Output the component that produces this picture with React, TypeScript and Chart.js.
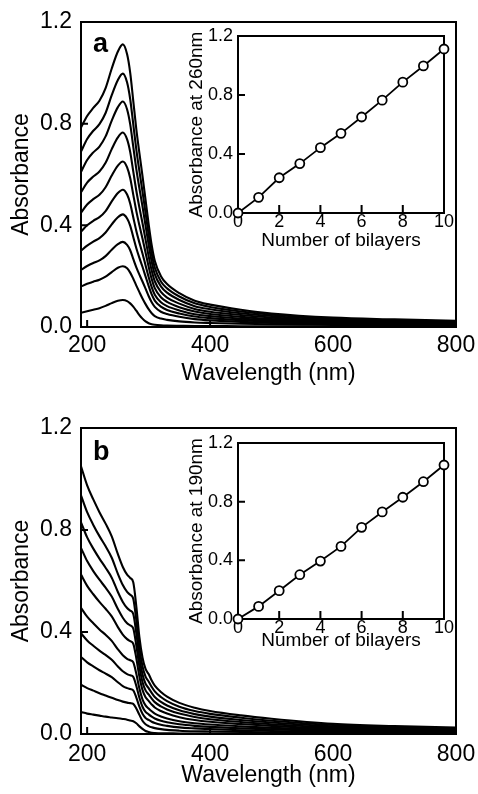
import React, { useEffect, useRef } from "react";
import { Chart, registerables } from "chart.js";

Chart.register(...registerables);

const FONT = '"Liberation Sans", Arial, Helvetica, sans-serif';

// ---------- main spectra (shared wavelength grid, nm) ----------
const wavelengths = [190, 200, 210, 220, 230, 240, 250, 258, 265, 270, 275, 280, 285, 290, 295, 300, 305, 310, 320, 330, 350, 375, 400, 450, 500, 600, 700, 800];

// Panel a: 1..10 bilayers
const specA1 = [0.056, 0.062, 0.068, 0.074, 0.083, 0.094, 0.103, 0.106, 0.102, 0.093, 0.08, 0.064, 0.047, 0.033, 0.022, 0.015, 0.011, 0.009, 0.007, 0.006, 0.005, 0.004, 0.004, 0.003, 0.003, 0.002, 0.002, 0.001];
const specA2 = [0.159, 0.17, 0.178, 0.186, 0.198, 0.216, 0.233, 0.239, 0.231, 0.214, 0.19, 0.163, 0.137, 0.112, 0.09, 0.07, 0.054, 0.043, 0.033, 0.028, 0.022, 0.018, 0.016, 0.013, 0.011, 0.008, 0.006, 0.005];
const specA3 = [0.225, 0.24, 0.252, 0.262, 0.279, 0.304, 0.326, 0.335, 0.323, 0.302, 0.268, 0.235, 0.206, 0.179, 0.151, 0.122, 0.097, 0.079, 0.06, 0.051, 0.04, 0.031, 0.026, 0.02, 0.016, 0.011, 0.009, 0.007];
const specA4 = [0.30, 0.32, 0.336, 0.35, 0.372, 0.404, 0.432, 0.443, 0.427, 0.399, 0.354, 0.31, 0.272, 0.237, 0.199, 0.162, 0.128, 0.104, 0.08, 0.067, 0.053, 0.041, 0.035, 0.027, 0.021, 0.015, 0.012, 0.01];
const specA5 = [0.375, 0.40, 0.418, 0.432, 0.456, 0.494, 0.527, 0.54, 0.521, 0.486, 0.432, 0.378, 0.332, 0.289, 0.243, 0.197, 0.157, 0.127, 0.097, 0.082, 0.065, 0.05, 0.043, 0.033, 0.026, 0.018, 0.015, 0.012];
const specA6 = [0.45, 0.482, 0.503, 0.52, 0.55, 0.596, 0.635, 0.651, 0.628, 0.586, 0.521, 0.456, 0.40, 0.348, 0.293, 0.238, 0.189, 0.153, 0.117, 0.099, 0.078, 0.061, 0.051, 0.04, 0.031, 0.021, 0.018, 0.014];
const specA7 = [0.53, 0.568, 0.592, 0.612, 0.646, 0.70, 0.746, 0.765, 0.738, 0.689, 0.612, 0.536, 0.47, 0.409, 0.344, 0.279, 0.222, 0.18, 0.138, 0.116, 0.092, 0.071, 0.06, 0.047, 0.037, 0.025, 0.021, 0.017];
const specA8 = [0.61, 0.657, 0.687, 0.71, 0.75, 0.812, 0.865, 0.887, 0.856, 0.798, 0.71, 0.621, 0.546, 0.475, 0.399, 0.324, 0.257, 0.208, 0.16, 0.135, 0.106, 0.082, 0.07, 0.054, 0.043, 0.029, 0.024, 0.02];
const specA9 = [0.69, 0.74, 0.772, 0.798, 0.842, 0.912, 0.972, 0.997, 0.962, 0.897, 0.798, 0.698, 0.613, 0.533, 0.449, 0.364, 0.289, 0.234, 0.179, 0.152, 0.12, 0.093, 0.079, 0.061, 0.048, 0.033, 0.027, 0.022];
const specA10 = [0.785, 0.83, 0.862, 0.89, 0.94, 1.017, 1.084, 1.112, 1.073, 1.001, 0.89, 0.778, 0.684, 0.595, 0.50, 0.406, 0.322, 0.261, 0.20, 0.169, 0.133, 0.103, 0.088, 0.068, 0.053, 0.037, 0.03, 0.024];

// Panel b: 1..10 bilayers
const specB1 = [0.086, 0.08, 0.076, 0.072, 0.068, 0.065, 0.062, 0.059, 0.056, 0.053, 0.05, 0.042, 0.03, 0.02, 0.012, 0.008, 0.005, 0.004, 0.003, 0.003, 0.002, 0.002, 0.002, 0.001, 0.001, 0.001, 0.001, 0.001];
const specB2 = [0.193, 0.18, 0.17, 0.16, 0.151, 0.142, 0.133, 0.127, 0.123, 0.121, 0.118, 0.1, 0.075, 0.052, 0.038, 0.031, 0.026, 0.023, 0.019, 0.016, 0.013, 0.011, 0.01, 0.008, 0.006, 0.004, 0.003, 0.003];
const specB3 = [0.302, 0.281, 0.265, 0.25, 0.237, 0.223, 0.203, 0.188, 0.18, 0.176, 0.171, 0.143, 0.107, 0.079, 0.063, 0.055, 0.048, 0.043, 0.036, 0.032, 0.026, 0.022, 0.019, 0.015, 0.012, 0.008, 0.006, 0.005];
const specB4 = [0.395, 0.367, 0.346, 0.327, 0.31, 0.291, 0.265, 0.246, 0.235, 0.23, 0.224, 0.188, 0.142, 0.107, 0.087, 0.077, 0.068, 0.061, 0.052, 0.046, 0.038, 0.032, 0.028, 0.022, 0.018, 0.012, 0.009, 0.007];
const specB5 = [0.495, 0.46, 0.434, 0.41, 0.389, 0.365, 0.332, 0.309, 0.295, 0.289, 0.281, 0.236, 0.178, 0.136, 0.112, 0.1, 0.089, 0.08, 0.069, 0.061, 0.05, 0.042, 0.037, 0.03, 0.024, 0.016, 0.012, 0.01];
const specB6 = [0.625, 0.581, 0.548, 0.518, 0.491, 0.461, 0.419, 0.39, 0.372, 0.364, 0.354, 0.297, 0.225, 0.173, 0.144, 0.13, 0.116, 0.104, 0.09, 0.08, 0.066, 0.055, 0.048, 0.039, 0.032, 0.021, 0.016, 0.013];
const specB7 = [0.73, 0.678, 0.639, 0.605, 0.574, 0.539, 0.49, 0.456, 0.434, 0.426, 0.414, 0.347, 0.264, 0.204, 0.171, 0.155, 0.139, 0.125, 0.108, 0.096, 0.08, 0.067, 0.058, 0.047, 0.038, 0.026, 0.02, 0.016];
const specB8 = [0.83, 0.771, 0.727, 0.688, 0.652, 0.613, 0.557, 0.518, 0.494, 0.484, 0.471, 0.395, 0.30, 0.234, 0.197, 0.18, 0.161, 0.145, 0.126, 0.112, 0.093, 0.078, 0.068, 0.055, 0.045, 0.03, 0.023, 0.019];
const specB9 = [0.936, 0.87, 0.82, 0.776, 0.736, 0.691, 0.628, 0.584, 0.557, 0.546, 0.531, 0.446, 0.339, 0.266, 0.225, 0.206, 0.185, 0.167, 0.145, 0.129, 0.107, 0.09, 0.079, 0.064, 0.052, 0.035, 0.027, 0.022];
const specB10 = [1.05, 0.975, 0.92, 0.87, 0.825, 0.775, 0.705, 0.655, 0.625, 0.612, 0.595, 0.50, 0.38, 0.30, 0.255, 0.235, 0.21, 0.19, 0.165, 0.147, 0.122, 0.103, 0.09, 0.073, 0.06, 0.04, 0.031, 0.025];

const seriesA = [specA1, specA2, specA3, specA4, specA5, specA6, specA7, specA8, specA9, specA10];
const seriesB = [specB1, specB2, specB3, specB4, specB5, specB6, specB7, specB8, specB9, specB10];

// ---------- insets ----------
const bilayers = [0, 1, 2, 3, 4, 5, 6, 7, 8, 9, 10];
const abs260 = [0, 0.106, 0.239, 0.335, 0.443, 0.54, 0.651, 0.765, 0.887, 0.997, 1.112];
const abs190 = [0, 0.086, 0.193, 0.302, 0.395, 0.495, 0.625, 0.73, 0.83, 0.936, 1.05];

// ---------- ticks ----------
const mainXTicks = [200, 400, 600, 800];
const absTicks = [0, 0.4, 0.8, 1.2];
const bilayerTicks = [0, 2, 4, 6, 8, 10];

type FrameOpts = { lineWidth: number; xTickLen: number; yTickLen: number; before?: boolean; label?: string; labelDx?: number; labelDy?: number };

function framePlugin(o: FrameOpts) {
  const draw = (chart: any) => {
    const { ctx, chartArea } = chart;
    const { left, right, top, bottom } = chartArea;
    const xs = chart.scales.x;
    const ys = chart.scales.y;
    ctx.save();
    ctx.strokeStyle = "#000";
    ctx.lineWidth = o.lineWidth;
    ctx.strokeRect(left, top, right - left, bottom - top);
    ctx.beginPath();
    xs.ticks.forEach((t: any) => {
      const px = xs.getPixelForValue(t.value);
      ctx.moveTo(px, bottom);
      ctx.lineTo(px, bottom - o.xTickLen);
    });
    ys.ticks.forEach((t: any) => {
      const py = ys.getPixelForValue(t.value);
      ctx.moveTo(left, py);
      ctx.lineTo(left + o.yTickLen, py);
    });
    ctx.stroke();
    if (o.label) {
      ctx.fillStyle = "#000";
      ctx.font = `bold 27px ${FONT}`;
      ctx.textBaseline = "alphabetic";
      ctx.textAlign = "left";
      ctx.fillText(o.label, left + (o.labelDx || 0), top + (o.labelDy || 0));
    }
    ctx.restore();
  };
  return o.before
    ? { id: "frame", beforeDatasetsDraw: draw }
    : { id: "frame", afterDatasetsDraw: draw };
}

type MainP = { padTop: number; xHeight: number; tickPadX: number; titlePadX: number; label: string; labelDy: number };

function mainConfig(series: number[][], p: MainP): any {
  return {
    type: "line",
    data: {
      datasets: series.map((s) => ({
        data: s.map((v, i) => ({ x: wavelengths[i], y: v })),
        borderColor: "#000",
        borderWidth: 2.1,
        pointRadius: 0,
        fill: false,
        cubicInterpolationMode: "monotone",
      })),
    },
    options: {
      animation: false,
      responsive: false,
      devicePixelRatio: 1,
      events: [],
      layout: { padding: { top: p.padTop, right: 22, left: 0, bottom: 0 } },
      plugins: { legend: { display: false }, tooltip: { enabled: false } },
      scales: {
        x: {
          type: "linear",
          min: 190,
          max: 800,
          afterBuildTicks: (s: any) => {
            s.ticks = mainXTicks.map((v) => ({ value: v }));
          },
          afterFit: (s: any) => {
            s.height = p.xHeight;
            s.paddingLeft = 0;
            s.paddingRight = 0;
          },
          grid: { display: false, drawTicks: false },
          border: { display: false },
          ticks: { color: "#000", font: { family: FONT, size: 23, lineHeight: 1 }, padding: p.tickPadX, maxRotation: 0, autoSkip: false },
          title: { display: true, text: "Wavelength (nm)", color: "#000", font: { family: FONT, size: 23, lineHeight: 1 }, padding: { top: 0, bottom: p.titlePadX } },
        },
        y: {
          type: "linear",
          min: 0,
          max: 1.2,
          afterBuildTicks: (s: any) => {
            s.ticks = absTicks.map((v) => ({ value: v }));
          },
          afterFit: (s: any) => {
            s.width = 81;
            s.paddingTop = 0;
            s.paddingBottom = 0;
          },
          grid: { display: false, drawTicks: false },
          border: { display: false },
          ticks: { color: "#000", font: { family: FONT, size: 23, lineHeight: 1 }, padding: 9, callback: (v: any) => Number(v).toFixed(1) },
          title: { display: true, text: "Absorbance", color: "#000", font: { family: FONT, size: 23, lineHeight: 1 }, padding: { top: 10, bottom: 0 } },
        },
      },
    },
    plugins: [framePlugin({ lineWidth: 2, xTickLen: 7, yTickLen: 7, label: p.label, labelDx: 12, labelDy: p.labelDy })],
  };
}

type InsetP = { xHeight: number; titlePadX: number; ytitle: string };

function insetConfig(values: number[], p: InsetP): any {
  return {
    type: "line",
    data: {
      datasets: [
        {
          data: values.map((v, i) => ({ x: bilayers[i], y: v })),
          borderColor: "#000",
          borderWidth: 1.8,
          pointRadius: 4.5,
          pointBorderWidth: 1.8,
          pointBorderColor: "#000",
          pointBackgroundColor: "#fff",
          fill: false,
          tension: 0,
          clip: false,
        },
      ],
    },
    options: {
      animation: false,
      responsive: false,
      devicePixelRatio: 1,
      events: [],
      layout: { padding: { top: 12, right: 16, left: 0, bottom: 0 } },
      plugins: { legend: { display: false }, tooltip: { enabled: false } },
      scales: {
        x: {
          type: "linear",
          min: 0,
          max: 10,
          afterBuildTicks: (s: any) => {
            s.ticks = bilayerTicks.map((v) => ({ value: v }));
          },
          afterFit: (s: any) => {
            s.height = p.xHeight;
            s.paddingLeft = 0;
            s.paddingRight = 0;
          },
          grid: { display: false, drawTicks: false },
          border: { display: false },
          ticks: { color: "#000", font: { family: FONT, size: 18, lineHeight: 1 }, padding: 0, maxRotation: 0, autoSkip: false },
          title: { display: true, text: "Number of bilayers", color: "#000", font: { family: FONT, size: 19, lineHeight: 1 }, padding: { top: 0, bottom: p.titlePadX } },
        },
        y: {
          type: "linear",
          min: 0,
          max: 1.2,
          afterBuildTicks: (s: any) => {
            s.ticks = absTicks.map((v) => ({ value: v }));
          },
          afterFit: (s: any) => {
            s.width = 68;
            s.paddingTop = 0;
            s.paddingBottom = 0;
          },
          grid: { display: false, drawTicks: false },
          border: { display: false },
          ticks: { color: "#000", font: { family: FONT, size: 18, lineHeight: 1 }, padding: 5, callback: (v: any) => Number(v).toFixed(1) },
          title: { display: true, text: p.ytitle, color: "#000", font: { family: FONT, size: 19, lineHeight: 1 }, padding: { top: 17, bottom: 0 } },
        },
      },
    },
    plugins: [framePlugin({ lineWidth: 2, xTickLen: 8, yTickLen: 7, before: true })],
  };
}

function ChartCanvas({ config, left, top, width, height }: { config: any; left: number; top: number; width: number; height: number }) {
  const ref = useRef<HTMLCanvasElement>(null);
  useEffect(() => {
    const chart = new Chart(ref.current as HTMLCanvasElement, config);
    return () => chart.destroy();
  }, []);
  return <canvas ref={ref} width={width} height={height} style={{ position: "absolute", left, top, width, height }} />;
}

export default function App() {
  return (
    <div style={{ position: "fixed", left: 0, top: 0, width: 478, height: 794, background: "#fff", overflow: "hidden" }}>
      <ChartCanvas config={mainConfig(seriesA, { padTop: 22, xHeight: 70, tickPadX: 7, titlePadX: 12, label: "a", labelDy: 30 })} left={0} top={0} width={478} height={397} />
      <ChartCanvas config={mainConfig(seriesB, { padTop: 31, xHeight: 60, tickPadX: 8.7, titlePadX: 6.5, label: "b", labelDy: 32 })} left={0} top={397} width={478} height={397} />
      <ChartCanvas config={insetConfig(abs260, { xHeight: 57, titlePadX: 20, ytitle: "Absorbance at 260nm" })} left={170} top={24} width={290} height={246} />
      <ChartCanvas config={insetConfig(abs190, { xHeight: 58, titlePadX: 27, ytitle: "Absorbance at 190nm" })} left={170} top={431} width={290} height={246} />
    </div>
  );
}
